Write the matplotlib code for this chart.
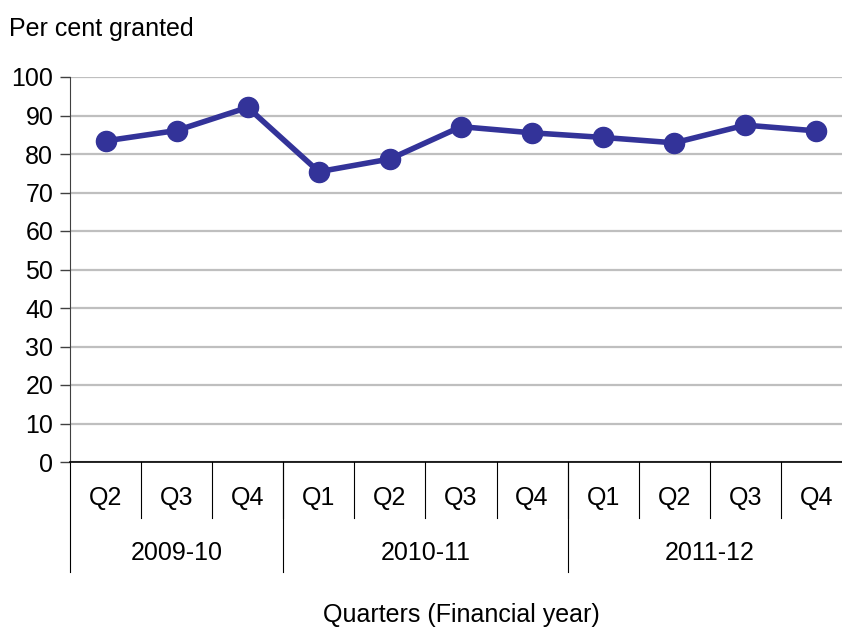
import matplotlib
matplotlib.use("Agg")
import matplotlib.pyplot as plt
import numpy as np

# datos del grafico
trimestres = ["Q2", "Q3", "Q4", "Q1", "Q2", "Q3", "Q4", "Q1", "Q2", "Q3", "Q4"]
anios = ["2009-10", "2010-11", "2011-12"]
trimestresPorAnio = [3, 4, 4]
porcentaje = [83.4, 86.1, 92.1, 75.4, 78.7, 87.1, 85.5, 84.3, 82.9, 87.5, 86.0]

plt.rcParams["font.family"] = ["Liberation Sans", "DejaVu Sans"]
tamano = 18

fig = plt.figure(figsize=(8.42, 6.28), dpi=100)
# el area del grafico se sale un poco por la derecha, como en la original
ax = fig.add_axes([70 / 842, 166 / 628, 782 / 842, 385 / 628])

x = np.arange(len(trimestres))
ax.plot(x, porcentaje, color="#333399", linewidth=4, marker="o",
        markersize=14.5, zorder=3)

ax.set_xlim(-0.5, len(trimestres) - 0.5)
ax.set_ylim(0, 100)
ax.set_yticks(range(0, 101, 10))
ax.yaxis.grid(True, color="#bfbfbf", linewidth=1.6)
ax.set_axisbelow(True)
ax.tick_params(axis="y", labelsize=tamano, length=7, width=1, color="#404040",
               pad=5)
ax.set_xticks([])

for lado in ["top", "right"]:
    ax.spines[lado].set_visible(False)
ax.spines["left"].set_color("#404040")
ax.spines["bottom"].set_color("black")
ax.spines["bottom"].set_linewidth(1.2)

# etiquetas de categorias en dos niveles
trans = ax.get_xaxis_transform()
for i, q in enumerate(trimestres):
    ax.text(i, -0.094, q, transform=trans, ha="center", va="center",
            fontsize=tamano)
    if i > 0:
        ax.plot([i - 0.5, i - 0.5], [0, -0.145], transform=trans,
                color="black", linewidth=0.8, clip_on=False)

inicio = 0
for anio, n in zip(anios, trimestresPorAnio):
    ax.plot([inicio - 0.5, inicio - 0.5], [0, -0.286], transform=trans,
            color="black", linewidth=0.8, clip_on=False)
    centro = inicio - 0.5 + n / 2
    ax.text(centro, -0.236, anio, transform=trans, ha="center", va="center",
            fontsize=tamano)
    inicio += n

fig.text(9 / 842, 1 - 29 / 628, "Per cent granted", ha="left", va="center",
         fontsize=tamano)
fig.text(461 / 842, 1 - 615 / 628, "Quarters (Financial year)", ha="center",
         va="center", fontsize=tamano)

fig.savefig("out.png", dpi=100)
